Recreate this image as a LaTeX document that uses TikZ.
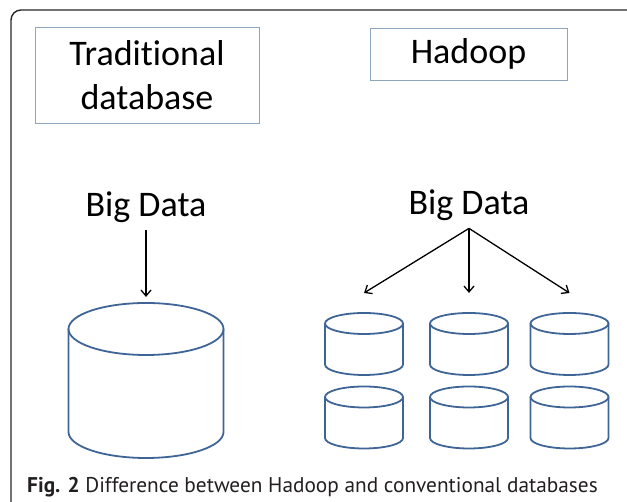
\documentclass[tikz,border=0pt]{standalone}
\usepackage{fontspec}
\usepackage{tikz}
\usetikzlibrary{positioning}
\usetikzlibrary{arrows.meta}
\newfontfamily\calibri[Ligatures=NoCommon]{Carlito}
\newfontfamily\capfont{PT Sans}
\definecolor{boxgray}{HTML}{8FA5BD}
\definecolor{dbblue}{HTML}{3F6596}
\definecolor{captext}{HTML}{231F20}
% one database drum: centre x, top y, x radius, y radius, height
\newcommand{\dbdrum}[5]{%
  \draw[dbline] (#1-#3,#2) -- (#1-#3,#2-#5) arc[start angle=180, end angle=360, x radius=#3, y radius=#4] -- (#1+#3,#2);
  \draw[dbline] (#1,#2) ellipse[x radius=#3, y radius=#4];}
\begin{document}
\begin{tikzpicture}[x=1pt, y=1pt,
        tbox/.style = {draw=boxgray, line width=0.8pt, inner sep=0pt, align=center, font=\calibri\fontsize{36}{44}\selectfont},
        bigtext/.style = {inner sep=0pt, font=\calibri\fontsize{36}{44}\selectfont},
        dbline/.style = {draw=dbblue, line width=1.8pt},
        arr/.style = {-{Straight Barb[length=6pt, width=10pt]}, line width=1.3pt},
        frame/.style = {draw=black!85, line width=1.4pt, rounded corners=10pt}
        ]
        \useasboundingbox (0,0) rectangle (627,502);
        \draw[frame] (11,-2) -- (11,492) -- (630,492);
        % headings
        \node[tbox, minimum width=224pt, minimum height=96pt] (trad) at (147,427) {Traditional\\database};
        \node[tbox, minimum width=197pt, minimum height=52pt] (hadoop) at (468.5,448) {Hadoop};
        \node[bigtext, anchor=base] (bdL) at (146,285) {Big Data};
        \node[bigtext, anchor=base] (bdR) at (469,287) {Big Data};
        \coordinate[below=7pt of bdL] (forkL);
        \coordinate[below=7pt of bdR] (forkR);
        % databases
        \dbdrum{146}{173}{77.5}{26}{103}
        \coordinate (dbL) at (146,205);
        \foreach \cx/\n in {364/1, 469/2, 569.5/3} {
            \dbdrum{\cx}{178.5}{39}{10.5}{41}
            \dbdrum{\cx}{105}{39}{10.5}{41}
            \coordinate (db\n) at (\cx,209);
        }
        \draw[arr] (forkL) -- (dbL);
        \foreach \n in {1,2,3}
            \draw[arr] (forkR) -- (db\n);
        % caption
        \node[anchor=base west, inner sep=0pt, text=captext, font=\capfont\fontsize{21.3}{24}\selectfont] (cap) at (27,9) {\textbf{Fig. 2} Difference between Hadoop and conventional databases};
\end{tikzpicture}
\end{document}
